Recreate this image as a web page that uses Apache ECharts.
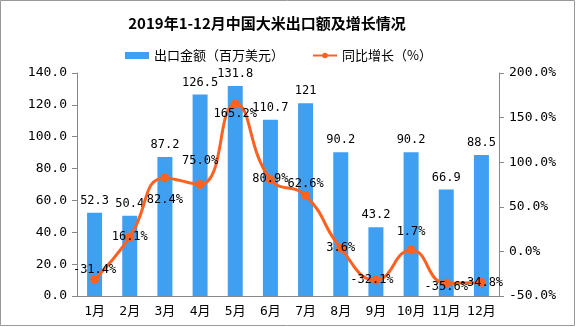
<!DOCTYPE html>
<html><head><meta charset="utf-8">
<script src="https://cdn.jsdelivr.net/npm/echarts@6/dist/echarts.min.js"></script>
<style>html,body{margin:0;padding:0;background:#fff}#c{width:576px;height:327px}</style>
</head><body><div id="c"></div>
<script>
const categories = ['1月','2月','3月','4月','5月','6月','7月','8月','9月','10月','11月','12月'];
const exportValues = [52.3, 50.4, 87.2, 126.5, 131.8, 110.7, 121, 90.2, 43.2, 90.2, 66.9, 88.5];
const growthValues = [-31.4, 16.1, 82.4, 75.0, 165.2, 80.9, 62.6, 3.6, -32.1, 1.7, -35.6, -34.8];
const leftTicks = {min: 0, max: 140, interval: 20};
const rightTicks = {min: -50, max: 200, interval: 50};

const FONT = "'DejaVu Sans Mono', 'Noto Sans CJK SC', monospace";
// label offsets (style only)
const lblOffsets = [[0,-10],[0,0],[0,22],[0,-24],[0,10],[0,0],[0,-12],[0,0],[-4,0],[0,-18],[0,4],[0,0]];

const chart = echarts.init(document.getElementById('c'));
chart.setOption({
  animation: false,
  backgroundColor: '#fff',
  title: {
    text: '2019年1-12月中国大米出口额及增长情况',
    left: 262, top: 11, textAlign: 'center',
    textStyle: {fontFamily: "'Noto Sans CJK SC'", fontWeight: 'bold', fontSize: 15, color: '#000'}
  },
  legend: {
    top: 44, left: 120,
    itemGap: 28, itemWidth: 24, itemHeight: 7,
    textStyle: {fontFamily: "'Noto Sans CJK SC'", fontSize: 13, color: '#000'},
    data: [
      {name: '出口金额（百万美元）', icon: 'rect'},
      {name: '同比增长（%）'}
    ]
  },
  grid: {left: 77, right: 77, top: 73, bottom: 31},
  xAxis: {
    type: 'category', data: categories,
    axisLine: {lineStyle: {color: '#888'}},
    axisTick: {lineStyle: {color: '#888'}, length: 5},
    axisLabel: {color: '#000', fontFamily: FONT, fontSize: 13, margin: 9, interval: 0}
  },
  yAxis: [
    {type: 'value', min: leftTicks.min, max: leftTicks.max, interval: leftTicks.interval,
     splitLine: {show: false},
     axisLine: {show: true, lineStyle: {color: '#888'}},
     axisTick: {show: true, length: 5, lineStyle: {color: '#888'}},
     axisLabel: {color: '#000', fontFamily: FONT, fontSize: 13, margin: 10, formatter: v => v.toFixed(1)}},
    {type: 'value', min: rightTicks.min, max: rightTicks.max, interval: rightTicks.interval,
     splitLine: {show: false},
     axisLine: {show: true, lineStyle: {color: '#888'}},
     axisTick: {show: true, length: 5, lineStyle: {color: '#888'}},
     axisLabel: {color: '#000', fontFamily: FONT, fontSize: 13, margin: 10, formatter: v => v.toFixed(1) + '%'}}
  ],
  graphic: [{type: 'rect', shape: {x: 0.5, y: 0.5, width: 574, height: 325},
             style: {fill: 'none', stroke: '#999', lineWidth: 1}, silent: true}],
  series: [
    {name: '出口金额（百万美元）', type: 'bar', data: exportValues, barWidth: 15,
     itemStyle: {color: '#3f9ff0'},
     label: {show: true, position: 'top', color: '#000', fontFamily: FONT, fontSize: 12, distance: 6}},
    {name: '同比增长（%）', type: 'line', yAxisIndex: 1, smooth: true,
     data: growthValues.map((v, i) => ({value: v, label: {offset: lblOffsets[i]}})),
     symbol: 'circle', symbolSize: 9,
     lineStyle: {color: '#fe6120', width: 3},
     itemStyle: {color: '#fe6120'},
     label: {show: true, position: 'inside', color: '#000', fontFamily: FONT, fontSize: 12,
             formatter: p => p.value.toFixed(1) + '%'}}
  ]
});
</script></body></html>
